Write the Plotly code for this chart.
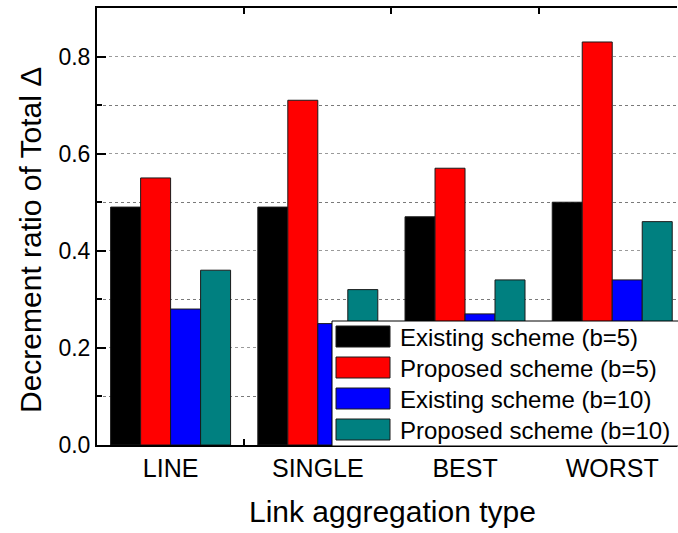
import plotly.graph_objects as go

# Link aggregation types on the x axis
categories = ["LINE", "SINGLE", "BEST", "WORST"]

# Decrement ratio of total delta per scheme
series_names = [
    "Existing scheme (b=5)",
    "Proposed scheme (b=5)",
    "Existing scheme (b=10)",
    "Proposed scheme (b=10)",
]
existing_b5 = [0.49, 0.49, 0.47, 0.50]
proposed_b5 = [0.55, 0.71, 0.57, 0.83]
existing_b10 = [0.28, 0.25, 0.27, 0.34]
proposed_b10 = [0.36, 0.32, 0.34, 0.46]
series_values = [existing_b5, proposed_b5, existing_b10, proposed_b10]
series_colors = ["#000000", "#FF0000", "#0000FF", "#008080"]

y_ticks = [0.0, 0.2, 0.4, 0.6, 0.8]

FONT = "Liberation Sans, Arial, sans-serif"
W, H = 678, 533
ML, MR, MT, MB = 97, 1, 8, 88
PW, PH = W - ML - MR, H - MT - MB


def px_x(px):
    return (px - ML) / PW


def px_y(py):
    return (H - MB - py) / PH


fig = go.Figure()
for name, vals, col in zip(series_names, series_values, series_colors):
    fig.add_trace(go.Bar(
        x=categories, y=vals, name=name,
        marker=dict(color=col, line=dict(color="#1a1a1a", width=1)),
        showlegend=False,
    ))

# Boxed legend with wide swatches drawn over the bars
shapes = [dict(
    type="rect", xref="paper", yref="paper", layer="above",
    x0=px_x(332), x1=px_x(679), y0=px_y(446), y1=px_y(321),
    fillcolor="white", line=dict(color="#000000", width=1),
)]
annotations = []
for i, (name, col) in enumerate(zip(series_names, series_colors)):
    top = 326 + i * 31
    shapes.append(dict(
        type="rect", xref="paper", yref="paper", layer="above",
        x0=px_x(336), x1=px_x(390), y0=px_y(top + 21), y1=px_y(top),
        fillcolor=col, line=dict(color="#1a1a1a", width=1),
    ))
    annotations.append(dict(
        xref="paper", yref="paper", x=px_x(398), y=px_y(top + 11),
        xanchor="left", yanchor="middle", showarrow=False,
        text=name, font=dict(family=FONT, size=24, color="black"),
    ))

# Axis titles
annotations.append(dict(
    xref="paper", yref="paper", x=px_x(392), y=px_y(511),
    xanchor="center", yanchor="middle", showarrow=False,
    text="Link aggregation type", font=dict(family=FONT, size=30, color="black"),
))
annotations.append(dict(
    xref="paper", yref="paper", x=px_x(30), y=px_y(240),
    xanchor="center", yanchor="middle", showarrow=False, textangle=-90,
    text="Decrement ratio of Total Δ", font=dict(family=FONT, size=30, color="black"),
))

fig.update_layout(
    width=W, height=H,
    margin=dict(l=ML, r=MR, t=MT, b=MB),
    paper_bgcolor="white", plot_bgcolor="white",
    barmode="group", bargap=0.185, bargroupgap=0,
    font=dict(family=FONT, color="black"),
    shapes=shapes, annotations=annotations,
    xaxis=dict(
        type="category", range=[-0.5, 3.44],
        tickson="boundaries", ticks="inside", ticklen=6, tickwidth=1.5, tickcolor="black",
        showline=True, linewidth=2, linecolor="black", mirror="ticks",
        showgrid=False, tickfont=dict(size=25, family=FONT, color="black"),
    ),
    yaxis=dict(
        range=[0, 0.9], tickvals=y_ticks, tickformat=".1f",
        ticks="inside", ticklen=9, tickwidth=1.5, tickcolor="black",
        showline=True, linewidth=2, linecolor="black",
        showgrid=True, gridcolor="#9a9a9a", gridwidth=1, griddash="dot",
        zeroline=False, tickfont=dict(size=23, family=FONT, color="black"),
        minor=dict(dtick=0.1, tick0=0, ticks="inside", ticklen=5, tickcolor="black",
                   showgrid=True, gridcolor="#7a7a7a", gridwidth=1),
    ),
)

fig.write_html("out.html")
